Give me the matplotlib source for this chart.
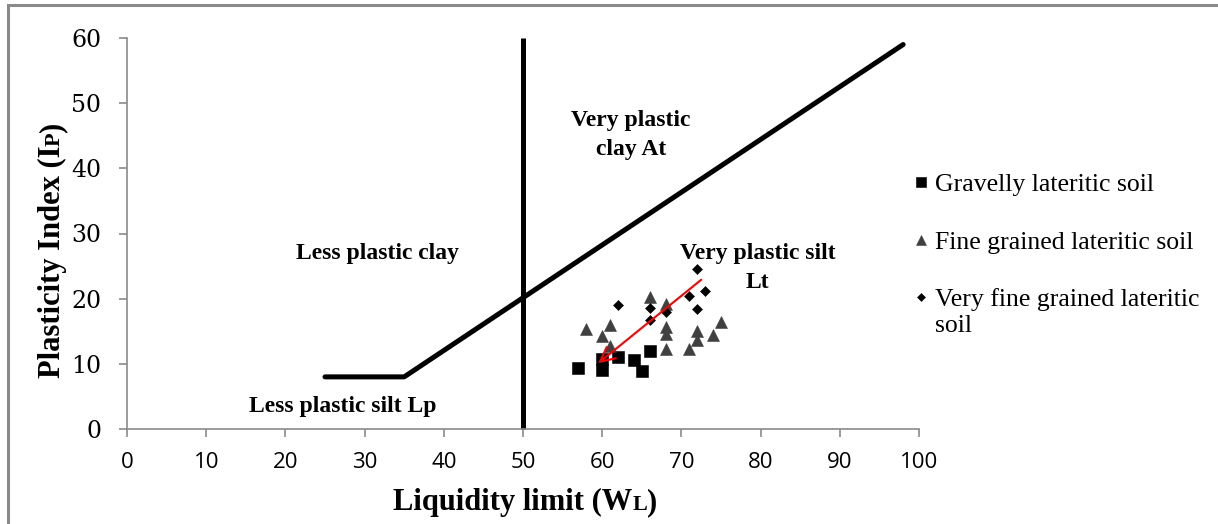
import matplotlib
matplotlib.use("Agg")
import matplotlib.pyplot as plt
from matplotlib.patches import Rectangle

# ---- data ----
gravelly_wl = [57, 60, 60, 62, 64, 65, 66]
gravelly_ip = [9.4, 9.0, 10.8, 11.1, 10.6, 8.9, 12.0]

fine_wl = [58, 60, 61, 61, 66, 68, 68, 68, 68, 71, 72, 72, 74, 75]
fine_ip = [15.4, 14.3, 16.0, 12.7, 20.2, 19.2, 15.6, 14.6, 12.3, 12.3, 15.0, 13.7, 14.4, 16.4]

very_fine_wl = [62, 66, 66, 68, 71, 72, 72, 73]
very_fine_ip = [19.0, 18.5, 16.7, 18.0, 20.4, 24.5, 18.4, 21.1]

aline_wl = [25, 35, 98]
aline_ip = [8, 8, 59]
vline_wl = [50, 50]
vline_ip = [0, 60]

arrow_tail = (72.5, 22.9)
arrow_head = (59.5, 10.1)

x_ticks = [0, 10, 20, 30, 40, 50, 60, 70, 80, 90, 100]
y_ticks = [0, 10, 20, 30, 40, 50, 60]

labels = ["Gravelly lateritic soil", "Fine grained lateritic soil",
          "Very fine grained lateritic\nsoil"]

W, H = 1218, 524
fig = plt.figure(figsize=(W / 100, H / 100), dpi=100)
ax = fig.add_axes([127 / W, 1 - 429 / H, (919 - 127) / W, (429 - 38) / H])

gray = "#8a8a8a"
serif_b = dict(family="Liberation Serif", weight="bold")

ax.plot(aline_wl, aline_ip, color="black", lw=3.6, solid_capstyle="round",
        solid_joinstyle="round", clip_on=False, zorder=2)
ax.plot(vline_wl, vline_ip, color="black", lw=3.6, solid_capstyle="butt",
        clip_on=False, zorder=2)

h1, = ax.plot(gravelly_wl, gravelly_ip, ls="none", marker="s", ms=9.2,
              mfc="black", mec="black", mew=0.4, zorder=3, clip_on=False)
h2, = ax.plot(fine_wl, fine_ip, ls="none", marker="^", ms=9,
              mfc="#404040", mec="#404040", mew=0.4, zorder=4, clip_on=False)
h3, = ax.plot(very_fine_wl, very_fine_ip, ls="none", marker="D", ms=5.2,
              mfc="black", mec="black", mew=0.4, zorder=5, clip_on=False)

ax.annotate("", xy=arrow_head, xytext=arrow_tail,
            arrowprops=dict(arrowstyle="->", color="red", lw=1.5,
                            mutation_scale=26, shrinkA=0, shrinkB=0),
            zorder=6)

ax.text(63.6, 45.1, "Very plastic\nclay At", ha="center", va="center",
        fontsize=17, linespacing=1.45, **serif_b)
ax.text(31.6, 27.0, "Less plastic clay", ha="center", va="center",
        fontsize=17, **serif_b)
ax.text(79.6, 24.7, "Very plastic silt\nLt", ha="center", va="center",
        fontsize=17, linespacing=1.45, **serif_b)
ax.text(27.3, 3.4, "Less plastic silt Lp", ha="center", va="center",
        fontsize=17, **serif_b)

ax.set_xlim(0, 100)
ax.set_ylim(0, 60)
ax.set_xticks(x_ticks)
ax.set_yticks(y_ticks)
for s in ["top", "right"]:
    ax.spines[s].set_visible(False)
for s in ["left", "bottom"]:
    ax.spines[s].set_color(gray)
    ax.spines[s].set_linewidth(1.2)
ax.tick_params(axis="both", direction="out", length=5.5, width=1.2, color=gray)
ax.tick_params(axis="x", pad=11, labelsize=16, labelfontfamily="Open Sans")
ax.tick_params(axis="y", pad=13, labelsize=17, labelfontfamily="DejaVu Serif")

first_lines = [lab.split("\n")[0] for lab in labels]
leg = ax.legend([h1, h2, h3], first_lines, loc="upper left",
                bbox_to_anchor=(913 / W, 1 - 173 / H),
                bbox_transform=fig.transFigure, frameon=False,
                prop=dict(family="Liberation Serif", size=18.5),
                handlelength=0.6, handletextpad=0.25, labelspacing=1.35,
                markerscale=0.75, borderpad=0, borderaxespad=0)

fig.canvas.draw()
r = fig.canvas.get_renderer()
# continuation lines of wrapped legend labels
for lab, txt in zip(labels, leg.get_texts()):
    rest = lab.split("\n")[1:]
    if rest:
        bb = txt.get_window_extent(renderer=r)
        for k, line in enumerate(rest, start=1):
            fig.text(bb.x0, bb.y0 - 26 * k, line, transform=None,
                     ha="left", va="bottom", family="Liberation Serif",
                     fontsize=18.5)


# ---- axis labels with small-cap subscripts ----
def compound_label(parts, rotation, start, center):
    texts = []
    for s, size in parts:
        t = fig.text(0, 0, s, fontsize=size, rotation=rotation,
                     rotation_mode="anchor", ha="left", va="baseline",
                     transform=None, **serif_b)
        texts.append(t)
    widths = []
    for t in texts:
        bb = t.get_window_extent(renderer=r)
        widths.append(bb.width if rotation == 0 else bb.height)
    total = sum(widths)
    pos = center - total / 2
    for t, w in zip(texts, widths):
        if rotation == 0:
            t.set_position((pos, start))
        else:
            t.set_position((start, pos))
        pos += w


compound_label([("Liquidity limit (W", 22), ("L", 16), (")", 22)], 0,
               H - 510, 525)
compound_label([("Plasticity Index (I", 22), ("P", 16), (")", 22)], 90,
               60, H - 250)

fig.add_artist(Rectangle((8, -20), W + 40, H - 5 + 20, transform=None,
                         fill=False, edgecolor=gray, lw=2.2))

fig.savefig("out.png", dpi=100)
